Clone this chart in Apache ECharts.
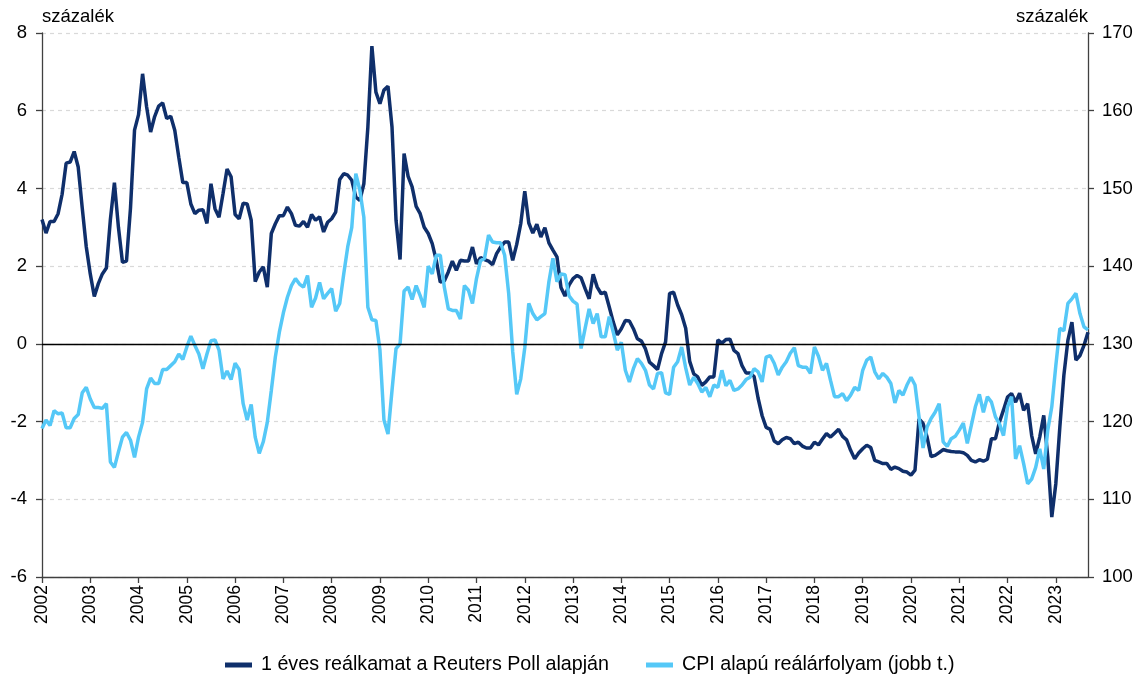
<!DOCTYPE html>
<html><head><meta charset="utf-8">
<script src="https://cdn.jsdelivr.net/npm/echarts@6/dist/echarts.min.js"></script>
<style>html,body{margin:0;padding:0;background:#fff}#c{width:1138px;height:699px}</style>
</head><body><div id="c"></div>
<script>
const years = [2002,2003,2004,2005,2006,2007,2008,2009,2010,2011,2012,2013,2014,2015,2016,2017,2018,2019,2020,2021,2022,2023];
const lastMonthOfLastYear = 9;
const leftTicks = { min: -6, max: 8, interval: 2 };
const rightTicks = { min: 100, max: 170, interval: 10 };
const seriesNames = ['1 éves reálkamat a Reuters Poll alapján', 'CPI alapú reálárfolyam (jobb t.)'];
const axisUnit = 'százalék';

// 1 éves reálkamat (bal tengely), havi, 2002-01 .. 2023-09
const realRate = [
 3.2, 2.85, 3.15, 3.15, 3.35, 3.85, 4.65, 4.68, 4.95, 4.55, 3.5, 2.5,
 1.8, 1.22, 1.55, 1.8, 1.95, 3.2, 4.15, 3.0, 2.1, 2.13, 3.5, 5.5,
 5.9, 6.95, 6.1, 5.45, 5.85, 6.12, 6.2, 5.8, 5.86, 5.5, 4.8, 4.15,
 4.15, 3.6, 3.35, 3.44, 3.45, 3.1, 4.12, 3.48, 3.26, 3.87, 4.5, 4.3,
 3.33, 3.22, 3.62, 3.6, 3.18, 1.6, 1.85, 1.98, 1.46, 2.84, 3.09, 3.3,
 3.3, 3.52, 3.35, 3.05, 3.03, 3.15, 3.0, 3.33, 3.18, 3.27, 2.88, 3.13,
 3.22, 3.39, 4.23, 4.38, 4.34, 4.21, 3.78, 3.69, 4.12, 5.58, 7.66, 6.48,
 6.18, 6.53, 6.63, 5.58, 3.18, 2.17, 4.9, 4.31, 4.04, 3.54, 3.35, 3.0,
 2.84, 2.58, 2.15, 1.59, 1.62, 1.85, 2.13, 1.89, 2.15, 2.13, 2.13, 2.49,
 2.06, 2.22, 2.17, 2.13, 2.04, 2.32, 2.49, 2.62, 2.62, 2.15, 2.56, 3.09,
 3.93, 3.11, 2.85, 3.08, 2.75, 2.99, 2.6, 2.41, 2.24, 1.45, 1.23, 1.51,
 1.68, 1.76, 1.7, 1.42, 1.16, 1.79, 1.46, 1.29, 1.33, 0.95, 0.56, 0.23,
 0.39, 0.6, 0.59, 0.39, 0.13, 0.07, -0.13, -0.47, -0.56, -0.66, -0.25, 0.05,
 1.3, 1.33, 1.0, 0.75, 0.4, -0.45, -0.77, -0.85, -1.07, -0.98, -0.85, -0.85,
 0.1, 0.02, 0.11, 0.12, -0.17, -0.25, -0.56, -0.75, -0.75, -0.84, -1.4, -1.85,
 -2.15, -2.2, -2.5, -2.57, -2.47, -2.41, -2.44, -2.57, -2.53, -2.63, -2.68, -2.68,
 -2.53, -2.6, -2.45, -2.31, -2.4, -2.3, -2.2, -2.38, -2.47, -2.74, -2.96, -2.81,
 -2.7, -2.61, -2.67, -3.0, -3.04, -3.08, -3.08, -3.23, -3.17, -3.21, -3.28, -3.3,
 -3.38, -3.25, -1.93, -2.05, -2.4, -2.9, -2.87, -2.8, -2.72, -2.75, -2.77, -2.78,
 -2.78, -2.8, -2.87, -3.0, -3.04, -2.98, -3.02, -2.97, -2.44, -2.44, -2.01, -1.7,
 -1.37, -1.28, -1.5, -1.27, -1.71, -1.54, -2.36, -2.83, -2.4, -1.84, -2.91, -4.46,
 -3.6, -2.14, -0.81, 0.09, 0.56, -0.42, -0.3, -0.04, 0.3
];

// CPI alapú reálárfolyam (jobb tengely), havi, 2002-01 .. 2023-09
const reer = [
 119.1, 120.2, 119.5, 121.4, 121.0, 121.1, 119.2, 119.2, 120.4, 120.9, 123.7, 124.4,
 122.9, 121.8, 121.8, 121.7, 122.3, 114.8, 114.1, 116.1, 118.0, 118.6, 117.6, 115.4,
 118.0, 119.9, 124.2, 125.6, 124.9, 124.9, 126.7, 126.7, 127.2, 127.7, 128.7, 128.0,
 129.6, 131.0, 129.8, 128.7, 126.8, 128.7, 130.4, 130.5, 129.2, 125.5, 126.5, 125.4,
 127.5, 126.7, 122.3, 120.2, 122.2, 118.0, 115.9, 117.4, 119.9, 124.0, 128.3, 131.5,
 134.0, 136.0, 137.5, 138.4, 137.7, 137.3, 138.8, 134.7, 135.9, 137.9, 135.8, 136.5,
 137.1, 134.2, 135.2, 139.0, 142.5, 145.0, 151.9, 149.8, 146.3, 134.7, 133.1, 133.0,
 129.2, 120.2, 118.4, 124.0, 129.4, 130.0, 136.8, 137.3, 135.7, 137.5, 136.2, 134.7,
 140.0, 139.0, 141.4, 141.4, 137.3, 134.5, 134.3, 134.3, 133.2, 137.5, 136.9, 135.2,
 138.4, 140.7, 141.0, 144.0, 143.1, 143.0, 143.0, 141.4, 136.5, 129.0, 123.5, 125.5,
 129.5, 135.2, 133.9, 133.1, 133.5, 133.9, 138.0, 141.0, 138.0, 139.0, 138.9, 136.2,
 135.5, 135.1, 129.4, 132.0, 134.5, 132.6, 133.9, 130.9, 130.9, 133.5, 131.5, 129.2,
 130.2, 126.6, 125.1, 126.8, 128.1, 127.5, 126.6, 124.7, 124.2, 126.2, 126.3, 123.7,
 123.5, 127.0, 127.7, 129.6, 126.9, 124.7, 125.7, 124.9, 123.8, 124.4, 123.2, 124.7,
 124.4, 126.6, 124.6, 125.3, 124.0, 124.2, 124.7, 125.4, 125.7, 126.8, 126.4, 125.1,
 128.3, 128.5, 127.5, 126.0, 127.0, 127.7, 128.8, 129.5, 127.2, 127.0, 127.0, 126.2,
 129.6, 128.4, 126.6, 127.5, 125.3, 123.2, 123.2, 123.6, 122.7, 123.4, 124.4, 124.0,
 126.6, 127.9, 128.3, 126.4, 125.5, 126.2, 125.7, 124.9, 122.4, 124.0, 123.4, 124.7,
 125.7, 124.7, 120.6, 116.6, 119.3, 120.4, 121.2, 122.3, 117.4, 116.8, 117.8, 118.1,
 118.9, 119.8, 117.2, 119.5, 121.9, 123.5, 121.2, 123.2, 122.5, 120.6, 119.7, 118.2,
 121.9, 123.2, 115.2, 116.9, 114.6, 112.0, 112.6, 114.1, 116.5, 113.9, 118.9, 121.9,
 127.2, 132.0, 131.7, 135.2, 135.8, 136.5, 133.9, 132.2, 131.8
];

const months = [];
years.forEach(function (y, yi) {
  const n = (yi === years.length - 1) ? lastMonthOfLastYear : 12;
  for (let m = 1; m <= n; m++) months.push(y + '-' + (m < 10 ? '0' + m : m));
});

const FONT = 'Liberation Sans';
const axisColor = '#404040';
const isJan = function (idx, val) { return String(val).slice(5) === '01'; };

const chart = echarts.init(document.getElementById('c'), null, { renderer: 'canvas' });
chart.setOption({
  animation: false,
  backgroundColor: '#ffffff',
  textStyle: { fontFamily: FONT },
  grid: { left: 42, right: 50, top: 33, bottom: 122, containLabel: false },
  legend: {
    left: 220, top: 650,
    itemWidth: 27, itemHeight: 5, itemGap: 37,
    icon: 'rect',
    textStyle: { fontFamily: FONT, fontSize: 19.7, color: '#000', padding: [0, 0, 0, 4] },
    data: seriesNames
  },
  xAxis: {
    type: 'category',
    data: months,
    boundaryGap: false,
    axisLine: { show: true, onZero: false, lineStyle: { color: axisColor, width: 1.3 } },
    axisTick: { show: true, interval: isJan, length: 6, lineStyle: { color: axisColor, width: 1.3 } },
    axisLabel: {
      interval: isJan, rotate: 90, margin: 8,
      fontFamily: FONT, fontSize: 17.5, color: '#000',
      formatter: function (v) { return v.slice(0, 4); }
    },
    splitLine: { show: false }
  },
  yAxis: [
    {
      type: 'value', min: leftTicks.min, max: leftTicks.max, interval: leftTicks.interval,
      name: axisUnit, nameLocation: 'end', nameGap: 7,
      nameTextStyle: { fontFamily: FONT, fontSize: 18.5, color: '#000', align: 'left', verticalAlign: 'bottom' },
      axisLine: { show: true, lineStyle: { color: axisColor, width: 1.3 } },
      axisTick: { show: true, length: 6, lineStyle: { color: axisColor, width: 1.3 } },
      axisLabel: { fontFamily: FONT, fontSize: 18.5, color: '#000', margin: 15 },
      splitLine: { show: true, lineStyle: { color: '#d9d9d9', width: 1.2, type: [4, 4] } }
    },
    {
      type: 'value', min: rightTicks.min, max: rightTicks.max, interval: rightTicks.interval,
      position: 'right',
      name: axisUnit, nameLocation: 'end', nameGap: 7,
      nameTextStyle: { fontFamily: FONT, fontSize: 18.5, color: '#000', align: 'right', verticalAlign: 'bottom' },
      axisLine: { show: true, lineStyle: { color: axisColor, width: 1.3 } },
      axisTick: { show: true, length: 6, lineStyle: { color: axisColor, width: 1.3 } },
      axisLabel: { fontFamily: FONT, fontSize: 18.5, color: '#000', margin: 14 },
      splitLine: { show: false }
    }
  ],
  series: [
    {
      name: seriesNames[0], type: 'line', yAxisIndex: 0, data: realRate,
      showSymbol: false, symbol: 'none',
      lineStyle: { color: '#0f2f6b', width: 3.5 }, itemStyle: { color: '#0f2f6b' },
      markLine: {
        silent: true, symbol: 'none', label: { show: false },
        lineStyle: { color: '#000', width: 1.3, type: 'solid' },
        data: [{ yAxis: 0 }]
      },
      z: 3
    },
    {
      name: seriesNames[1], type: 'line', yAxisIndex: 1, data: reer,
      showSymbol: false, symbol: 'none',
      lineStyle: { color: '#55c8f7', width: 3.5 }, itemStyle: { color: '#55c8f7' },
      z: 4
    }
  ]
});
</script>
</body></html>
